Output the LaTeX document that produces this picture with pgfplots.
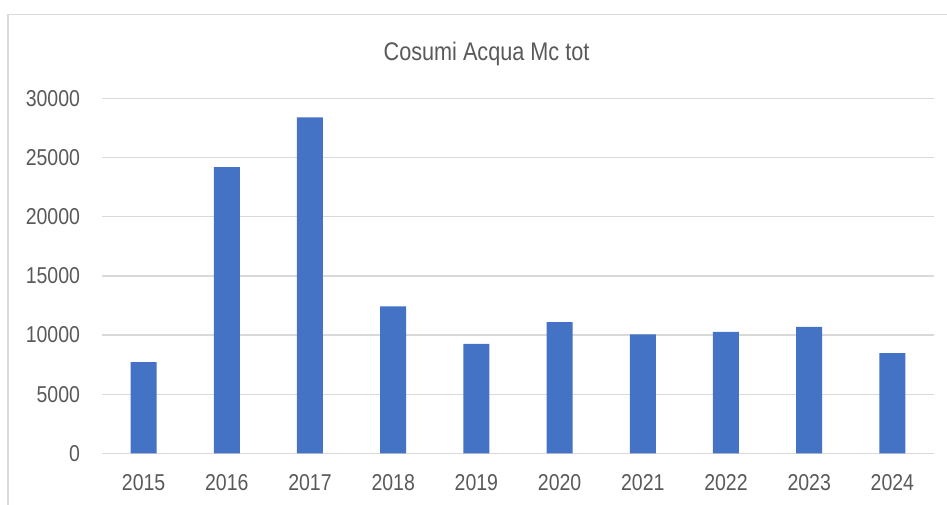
\documentclass[border=0pt]{standalone}
\usepackage{pgfplots}
\pgfplotsset{compat=1.18}
\usepackage{fontspec}
\setmainfont[FakeStretch=0.85]{Liberation Sans}
\definecolor{barblue}{HTML}{4472C4}
\definecolor{gridgray}{HTML}{D9D9D9}
\definecolor{txtgray}{HTML}{595959}
\begin{document}
\begin{tikzpicture}
\useasboundingbox (0,0) rectangle (710.25pt,-378pt);
\draw[gridgray, line width=1.3pt] (6.2pt,-380pt) -- (6.2pt,-10.9pt) -- (712pt,-10.9pt);
\begin{axis}[
  at={(76.5pt,-340pt)}, anchor=south west,
  scale only axis, width=624pt, height=266.25pt,
  xmin=-0.5, xmax=9.5, ymin=0, ymax=30000,
  ybar, bar width=19.5pt,
  axis line style={draw=none},
  ymajorgrids, grid style={gridgray, line width=1pt},
  major tick length=0pt,
  xtick={0,...,9},
  xticklabels={2015,2016,2017,2018,2019,2020,2021,2022,2023,2024},
  ytick={0,5000,...,30000},
  scaled y ticks=false,
  /pgf/number format/1000 sep={},
  /pgf/number format/assume math mode=true,
  tick label style={font=\fontsize{17.2}{20}\selectfont, text=txtgray, inner sep=0pt},
  y tick label style={anchor=east, xshift=-16.3pt},
  x tick label style={anchor=north, yshift=-15.3pt},
]
\addplot[fill=barblue, draw=none] coordinates {
(0,7710) (1,24180) (2,28400) (3,12420) (4,9260)
(5,11090) (6,10050) (7,10270) (8,10690) (9,8470)};
\end{axis}
\node[text=txtgray, font=\fontsize{19.1}{22}\selectfont, anchor=base] at (364.9pt,-45pt) {Cosumi Acqua Mc tot};
\end{tikzpicture}
\end{document}
